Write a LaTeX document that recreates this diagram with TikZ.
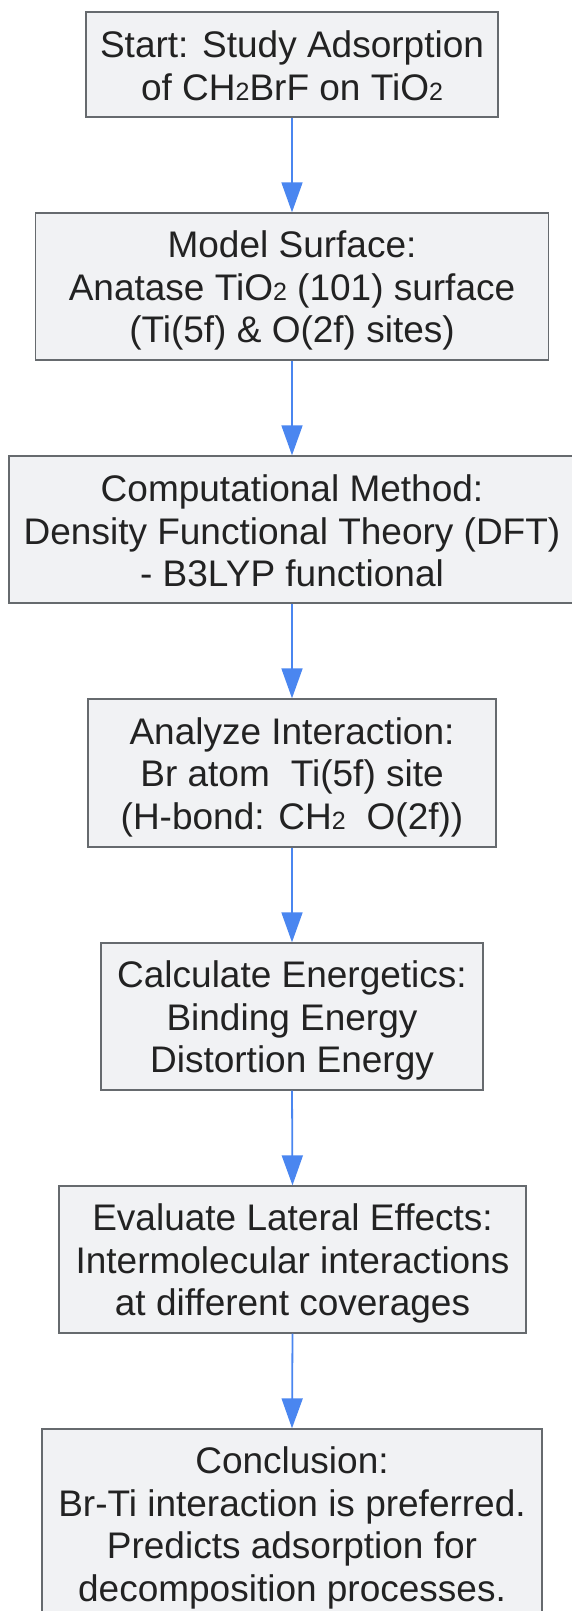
\documentclass[tikz,border=0pt]{standalone}
\usepackage{fontspec}
\setmainfont{Liberation Sans}
\usetikzlibrary{arrows.meta}
\definecolor{boxfill}{HTML}{F1F2F4}
\definecolor{boxline}{HTML}{666A6E}
\definecolor{arrowblue}{HTML}{4A86F0}
\definecolor{txt}{HTML}{222222}
\newcommand{\subtwo}{{\fontsize{25}{25}\selectfont 2}}
\newcommand{\topstrut}{\rule{0pt}{35pt}}
\newcommand{\botstrut}{\rule[-6pt]{0pt}{6pt}}
\tikzset{
  flowbox/.style={draw=boxline, line width=1.4pt, fill=boxfill, rectangle, inner sep=0pt,
    align=center, text=txt, font=\fontsize{37}{42.5}\selectfont},
  flowarrow/.style={draw=arrowblue, line width=1.8pt, -{Triangle[length=30pt,width=21pt]}}
}
\begin{document}
\begin{tikzpicture}[x=1pt,y=-1pt]
\useasboundingbox[fill=white] (0,0) rectangle (571,1611);
\node[flowbox, minimum width=412pt, minimum height=105pt] (b1) at (292,64.5)
  {\topstrut Start: Study Adsorption\\ of CH\subtwo BrF on TiO\subtwo\botstrut};
\node[flowbox, minimum width=513pt, minimum height=147pt] (b2) at (292,286.5)
  {\topstrut Model Surface:\\ Anatase TiO\subtwo{} (101) surface\\ (Ti(5f) \& O(2f) sites)\botstrut};
\node[flowbox, minimum width=566pt, minimum height=147pt] (b3) at (292,529.5)
  {\topstrut Computational Method:\\ Density Functional Theory (DFT)\\ - B3LYP functional\botstrut};
\node[flowbox, minimum width=408pt, minimum height=148pt] (b4) at (292,773)
  {\topstrut Analyze Interaction:\\ Br atom\hspace{21pt}Ti(5f) site\\ (H-bond: CH\subtwo\hspace{21pt}O(2f))\botstrut};
\node[flowbox, minimum width=382pt, minimum height=147pt] (b5) at (292,1016.5)
  {\topstrut Calculate Energetics:\\ Binding Energy\\ Distortion Energy\botstrut};
\node[flowbox, minimum width=467pt, minimum height=147pt] (b6) at (292.5,1259.5)
  {\topstrut Evaluate Lateral Effects:\\ Intermolecular interactions\\ at different coverages\botstrut};
\node[flowbox, minimum width=500pt, minimum height=190pt] (b7) at (292,1524)
  {\topstrut Conclusion:\\ Br-Ti interaction is preferred.\\ Predicts adsorption for\\ decomposition processes.\botstrut};
\draw[flowarrow] (b1.south) -- (b2.north);
\draw[flowarrow] (b2.south) -- (b3.north);
\draw[flowarrow] (b3.south) -- (b4.north);
\draw[flowarrow] (b4.south) -- (b5.north);
\draw[flowarrow] (b5.south) -- (b6.north);
\draw[flowarrow] (b6.south) -- (b7.north);
\end{tikzpicture}
\end{document}
